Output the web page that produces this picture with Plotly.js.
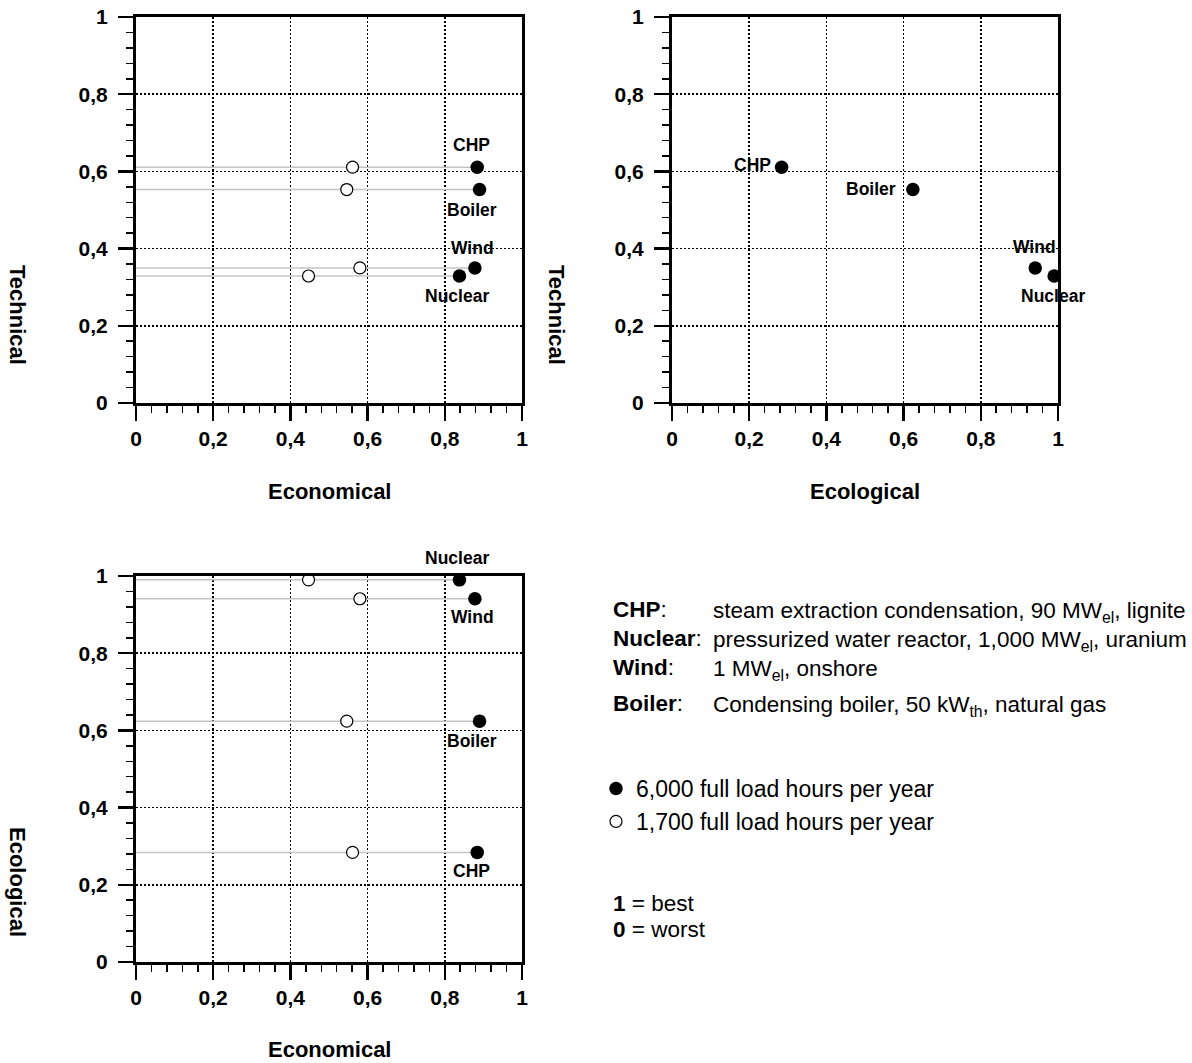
<!DOCTYPE html>
<html><head><meta charset="utf-8">
<script src="https://cdn.plot.ly/plotly-3.0.1.min.js"></script>
<style>html,body{margin:0;padding:0;background:#fff}#chart{width:1192px;height:1063px}</style>
</head><body><div id="chart"></div>
<script>
// ---- data ----
const techs = ['CHP', 'Boiler', 'Wind', 'Nuclear'];
const economical6000 = [0.884, 0.890, 0.878, 0.838];
const economical1700 = [0.561, 0.546, 0.580, 0.447];
const technical = [0.611, 0.553, 0.350, 0.329];
const ecological = [0.284, 0.624, 0.941, 0.990];
const tickVals = [0, 0.2, 0.4, 0.6, 0.8, 1];
const legendLabels = ['6,000 full load hours per year', '1,700 full load hours per year'];
const axisTitles = ['Economical', 'Technical', 'Ecological'];
const descLabels = ['CHP', 'Nuclear', 'Wind', 'Boiler'];
const descTexts = ['steam extraction condensation, 90 MW<sub>el</sub>, lignite',
  'pressurized water reactor, 1,000 MW<sub>el</sub>, uranium',
  '1 MW<sub>el</sub>, onshore',
  'Condensing boiler, 50 kW<sub>th</sub>, natural gas'];
const scaleNotes = ['<b>1</b> = best', '<b>0</b> = worst'];

// ---- style / layout helpers ----
const W = 1192, H = 1063;
const FONT = 'Liberation Sans, Arial, sans-serif';
const px = x => x / W;
const py = y => 1 - y / H;

function axis(domain, anchor, isX) {
  return {
    domain: domain, anchor: anchor, range: [0, 1], tickvals: tickVals,
    ticks: 'outside', ticklen: 15, tickwidth: 2.5, tickcolor: '#000',
    ticklabelstandoff: isX ? 0 : 6,
    showline: true, linewidth: 3, linecolor: '#000', mirror: true,
    showgrid: true, gridcolor: '#000', gridwidth: 1.6, griddash: '2px,2px',
    zeroline: false, fixedrange: true,
    minor: {dtick: 0.04, tick0: 0, ticks: 'outside', ticklen: 7, tickwidth: 1.5, tickcolor: '#000', showgrid: false},
    tickfont: {family: FONT, size: 21, color: '#000', weight: 'bold'}
  };
}

const traces = [];
const panels = [
  {xa: 'x', ya: 'y', xs: [economical6000, economical1700], ys: technical, lines: true},
  {xa: 'x2', ya: 'y2', xs: [ecological], ys: technical, lines: false},
  {xa: 'x3', ya: 'y3', xs: [economical6000, economical1700], ys: ecological, lines: true}
];
panels.forEach((p, pi) => {
  if (p.lines) {
    techs.forEach((t, i) => {
      traces.push({type: 'scatter', mode: 'lines', xaxis: p.xa, yaxis: p.ya,
        x: [0, p.xs[0][i]], y: [p.ys[i], p.ys[i]], showlegend: false, hoverinfo: 'skip',
        line: {color: '#c4c4c4', width: 1.5}});
    });
  }
  if (p.xs.length > 1) {
    traces.push({type: 'scatter', mode: 'markers', xaxis: p.xa, yaxis: p.ya,
      x: p.xs[1], y: p.ys, text: techs, name: legendLabels[1], legendgroup: 'open',
      showlegend: pi === 0, legendrank: 2,
      marker: {symbol: 'circle', size: 12, color: '#fff', line: {color: '#000', width: 1.2}}});
  }
  traces.push({type: 'scatter', mode: 'markers', xaxis: p.xa, yaxis: p.ya,
    x: p.xs[0], y: p.ys, text: techs, name: legendLabels[0], legendgroup: 'filled',
    showlegend: pi === 0, legendrank: 1,
    marker: {symbol: 'circle', size: 13.5, color: '#000'}});
});

// label offsets per panel (CHP, Boiler, Wind, Nuclear)
const labelPos = [
  [{xs: -6, ys: 22, xa: 'center'}, {xs: -8, ys: -20, xa: 'center'}, {xs: -2, ys: 20, xa: 'center'}, {xs: -2, ys: -20, xa: 'center'}],
  [{xs: -9, ys: 2, xa: 'right'}, {xs: -15, ys: 1, xa: 'right'}, {xs: -1, ys: 21, xa: 'center'}, {xs: -1, ys: -20, xa: 'center'}],
  [{xs: -6, ys: -19, xa: 'center'}, {xs: -8, ys: -20, xa: 'center'}, {xs: -2, ys: -18, xa: 'center'}, {xs: -2, ys: 22, xa: 'center'}]
];
const annotations = [];
panels.forEach((p, pi) => {
  techs.forEach((t, i) => {
    const lp = labelPos[pi][i];
    annotations.push({xref: p.xa, yref: p.ya, x: p.xs[0][i], y: p.ys[i], text: '<b>' + t + '</b>',
      showarrow: false, xanchor: lp.xa, yanchor: 'middle', xshift: lp.xs, yshift: lp.ys,
      font: {family: FONT, size: 17.5, color: '#000'}});
  });
});
// axis titles
const titleFont = {family: FONT, size: 22, color: '#000', weight: 'bold'};
[[axisTitles[0], 329, 492], [axisTitles[2], 865, 492], [axisTitles[0], 329, 1049]].forEach(a => {
  annotations.push({xref: 'paper', yref: 'paper', x: px(a[1]), y: py(a[2]), text: '<b>' + a[0] + '</b>',
    showarrow: false, xanchor: 'center', yanchor: 'middle', font: titleFont});
});
[[axisTitles[1], 18, 315], [axisTitles[1], 557, 315], [axisTitles[2], 18, 882]].forEach(a => {
  annotations.push({xref: 'paper', yref: 'paper', x: px(a[1]), y: py(a[2]), text: '<b>' + a[0] + '</b>',
    showarrow: false, xanchor: 'center', yanchor: 'middle', textangle: 90, font: titleFont});
});
// description block (one annotation per line)
const descFont = {family: FONT, size: 22.5, color: '#000'};
const descRowsY = [609, 638, 667, 703];
descLabels.forEach((l, i) => {
  annotations.push({xref: 'paper', yref: 'paper', x: px(611), y: py(descRowsY[i]), xanchor: 'left', yanchor: 'middle',
    align: 'left', showarrow: false, font: descFont, text: '<b>' + l + '</b>:'});
  annotations.push({xref: 'paper', yref: 'paper', x: px(711), y: py(descRowsY[i] + (descTexts[i].indexOf('<sub>') >= 0 ? 3 : 0)),
    xanchor: 'left', yanchor: 'middle', align: 'left', showarrow: false, font: descFont, text: descTexts[i]});
});
const noteRowsY = [903, 929];
scaleNotes.forEach((n, i) => {
  annotations.push({xref: 'paper', yref: 'paper', x: px(611), y: py(noteRowsY[i]), xanchor: 'left', yanchor: 'middle',
    align: 'left', showarrow: false, font: descFont, text: n});
});

const layout = {
  width: W, height: H, margin: {l: 0, r: 0, t: 0, b: 0},
  paper_bgcolor: '#fff', plot_bgcolor: '#fff', separators: ', ',
  font: {family: FONT, color: '#000'},
  xaxis: axis([px(136), px(522)], 'y', true),
  yaxis: axis([py(403), py(17)], 'x', false),
  xaxis2: axis([px(672), px(1058)], 'y2', true),
  yaxis2: axis([py(403), py(17)], 'x2', false),
  xaxis3: axis([px(136), px(522)], 'y3', true),
  yaxis3: axis([py(962), py(576)], 'x3', false),
  showlegend: true,
  legend: {x: px(596), y: py(767), xanchor: 'left', yanchor: 'top', bgcolor: 'rgba(0,0,0,0)',
    font: {family: FONT, size: 23, color: '#000'}, traceorder: 'normal', tracegroupgap: 3, itemclick: false},
  annotations: annotations
};
Plotly.newPlot('chart', traces, layout, {displayModeBar: false, staticPlot: true});
</script></body></html>
